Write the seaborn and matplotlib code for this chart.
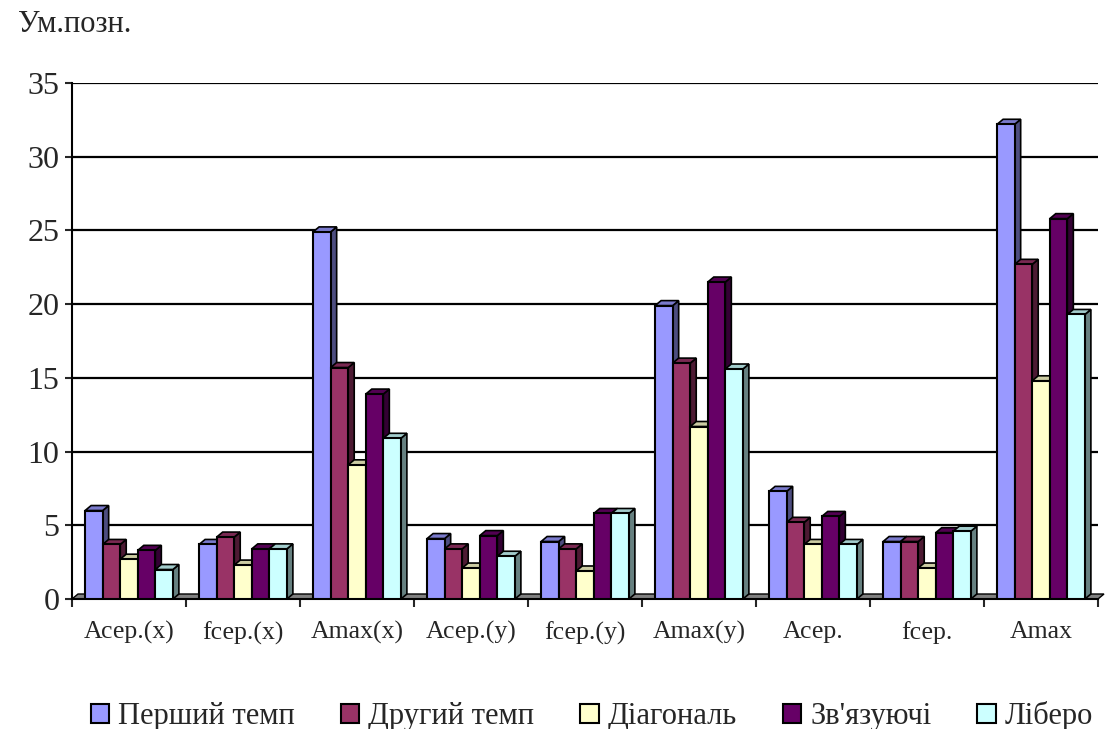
import numpy as np
import pandas as pd
import matplotlib
matplotlib.use("Agg")
import matplotlib.pyplot as plt
import seaborn as sns
from matplotlib.patches import Polygon, Patch
import matplotlib.colors as mcolors

categories = ["Асер.(x)", "fсер.(x)", "Amax(x)", "Асер.(y)", "fсер.(y)",
              "Amax(y)", "Асер.", "fсер.", "Amax"]
series_names = ["Перший темп", "Другий темп", "Діагональ", "Зв'язуючі", "Ліберо"]

pershyi = [6.0, 3.7, 24.9, 4.1, 3.9, 19.9, 7.3, 3.9, 32.2]
druhyi = [3.7, 4.2, 15.7, 3.4, 3.4, 16.0, 5.2, 3.9, 22.7]
diagonal = [2.7, 2.3, 9.1, 2.1, 1.9, 11.7, 3.7, 2.1, 14.8]
zviazuiuchi = [3.3, 3.4, 13.9, 4.3, 5.8, 21.5, 5.6, 4.5, 25.8]
libero = [2.0, 3.4, 10.9, 2.9, 5.8, 15.6, 3.7, 4.6, 19.3]

y_ticks = [0, 5, 10, 15, 20, 25, 30, 35]
colors = ["#9999FF", "#993366", "#FFFFCC", "#660066", "#CCFFFF"]

series_values = [pershyi, druhyi, diagonal, zviazuiuchi, libero]
rows = []
for name, vals in zip(series_names, series_values):
    for cat, v in zip(categories, vals):
        rows.append({"cat": cat, "series": name, "value": v})
df = pd.DataFrame(rows)

sns.set_theme(style="white")
plt.rcParams["font.family"] = ["Liberation Serif", "DejaVu Serif"]

fig = plt.figure(figsize=(11.07, 7.29), dpi=100)
ax = fig.add_axes([72 / 1107, 130 / 729, 1026 / 1107, 516 / 729])

sns.barplot(data=df, x="cat", y="value", hue="series", order=categories,
            hue_order=series_names, palette=colors, width=0.77, ax=ax,
            edgecolor="black", linewidth=1.5, saturation=1, legend=False,
            errorbar=None, zorder=3)

ax.set_xlim(-0.5, len(categories) - 0.5)
ax.set_ylim(0, 35)

# 3D depth offsets in data units (approx. 6 px to the right, 5 px up)
px_x = 1.0 / 114.0
px_y = 35.0 / 516.0
dx = 6 * px_x
dy = 5 * px_y

# floor strip
ax.add_patch(Polygon([(-0.5, 0), (len(categories) - 0.5, 0),
                      (len(categories) - 0.5 + dx, dy), (-0.5 + dx, dy)],
                     closed=True, facecolor="#808080", edgecolor="black",
                     linewidth=1.0, zorder=2, clip_on=False))

def darker(c, f):
    r, g, b = mcolors.to_rgb(c)
    return (r * f, g * f, b * f)

for i, bar in enumerate(ax.patches[:len(series_names) * len(categories)]):
    sidx = i // len(categories)
    col = colors[sidx]
    x0 = bar.get_x()
    w = bar.get_width()
    h = bar.get_height()
    x1 = x0 + w
    side = Polygon([(x1, 0), (x1 + dx, dy), (x1 + dx, h + dy), (x1, h)],
                   closed=True, facecolor=darker(col, 0.5), edgecolor="black",
                   linewidth=1.2, zorder=2.9)
    top = Polygon([(x0, h), (x0 + dx, h + dy), (x1 + dx, h + dy), (x1, h)],
                  closed=True, facecolor=darker(col, 0.8), edgecolor="black",
                  linewidth=1.2, zorder=2.9)
    ax.add_patch(side)
    ax.add_patch(top)

# gridlines
for t in y_ticks[1:]:
    ax.axhline(t, color="black", linewidth=1.6, zorder=1)

ax.set_yticks(y_ticks)
ax.set_yticklabels([str(t) for t in y_ticks], fontsize=23)
ax.set_xticks(np.arange(len(categories)))
ax.set_xticklabels(categories, fontsize=18.5)
ax.tick_params(axis="x", length=0, pad=16)
ax.set_xticks(np.arange(len(categories) + 1) - 0.5, minor=True)
ax.tick_params(axis="x", which="minor", length=6, width=1.5, direction="out", bottom=True)
ax.tick_params(axis="y", length=5, width=1.5, direction="out", left=True, pad=4)
ax.set_xlabel("")
ax.set_ylabel("")
for s in ["top", "right"]:
    ax.spines[s].set_visible(False)
for s in ["left", "bottom"]:
    ax.spines[s].set_color("black")
    ax.spines[s].set_linewidth(1.5)
ax.grid(False)

fig.text(18 / 1107, 1 - 24 / 729, "Ум.позн.", fontsize=22, va="center", ha="left")

handles = [Patch(facecolor=c, edgecolor="black", linewidth=1.5) for c in colors]
fig.legend(handles, series_names, loc="center", bbox_to_anchor=(592 / 1107, 1 - 716 / 729),
           ncol=5, frameon=False, fontsize=22, handlelength=0.6, handleheight=0.6,
           handletextpad=0.3, columnspacing=1.5)

fig.savefig("out.png", dpi=100)
